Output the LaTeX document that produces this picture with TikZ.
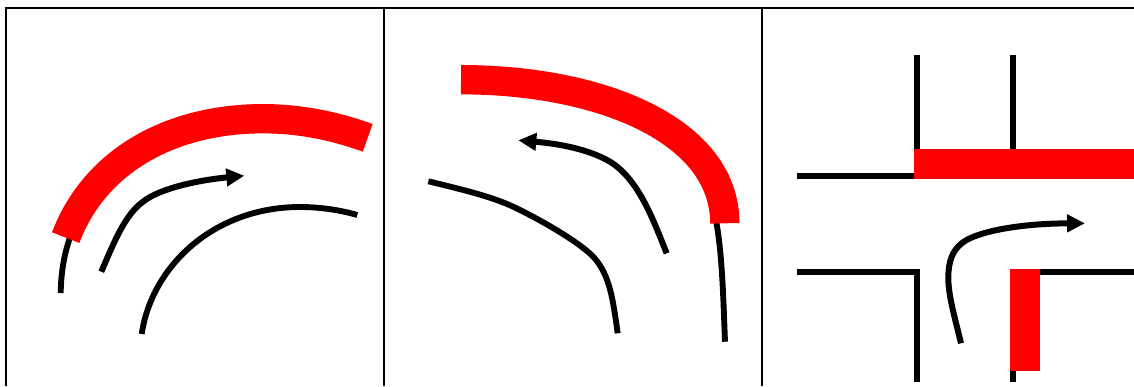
\documentclass[tikz,border=0pt]{standalone}
\usetikzlibrary{arrows.meta}
\tikzset{
  framel/.style={draw=black,line width=1.5pt},
  band/.style={draw=red,line width=22pt},
  road/.style={draw=black,line width=4.4pt},
  wall/.style={draw=black,line width=4.6pt},
  flow/.style={draw=black,line width=4.5pt,-{Triangle[length=13.5pt,width=12.75pt]}},
  redblock/.style={fill=red,draw=none}
}
\begin{document}
\begin{tikzpicture}[x=0.75pt,y=-0.75pt]
\useasboundingbox (0,0) rectangle (1134,386);
\fill[white] (0,0) rectangle (1134,386);
\begin{scope}
\clip (0,0) rectangle (1134,386);
% frame
\draw[framel] (6,386) -- (6,8) -- (1134,8);
\draw[framel] (384,8) -- (384,386);
\draw[framel] (762,8) -- (762,386);
% panel 1
\draw[road] (60.7,293) .. controls (61,270) and (65,250) .. (72,232);
\draw[road] (141.7,334) .. controls (152,265) and (215,207) .. (300,207) .. controls (320,207) and (340,210) .. (357.3,215);
\draw[flow] (101.3,271.7) .. controls (115,240) and (125,215) .. (143,201.7) .. controls (160,188) and (200,180) .. (244.3,175.7);
\draw[band] (65.7,237.6) .. controls (95,160) and (172,118.7) .. (263,118.7) .. controls (300,118.7) and (335,126) .. (367.7,137.8);
% panel 2
\draw[road] (725,341.7) .. controls (723,290) and (722,250) .. (715,215);
\draw[road] (428.3,181.3) .. controls (460,189) and (490,196) .. (513.3,206.7) .. controls (545,222) and (580,243) .. (593.3,256.7) .. controls (610,275) and (613,300) .. (617.7,333.3);
\draw[flow] (666.7,253.3) .. controls (655,225) and (640,180) .. (610,161.7) .. controls (585,147) and (550,143) .. (518.3,140.3);
\draw[band] (461,79.7) .. controls (600,79.7) and (724.8,130) .. (724.8,223.3);
% panel 3
\draw[wall] (917,55.3) -- (917,175.7) -- (797,175.7);
\draw[wall] (1013,55.3) -- (1013,150);
\draw[wall] (797,271.7) -- (917,271.7) -- (917,382);
\draw[wall] (1013,382) -- (1013,271.7) -- (1134,271.7);
\draw[flow] (961,343.3) .. controls (955,318) and (948,295) .. (948.3,276.7) .. controls (948.5,262) and (952,251) .. (961.7,243.3) .. controls (976,231.5) and (1020,223.5) .. (1085,223.3);
\fill[redblock] (914,148.7) rectangle (1134,178.7);
\fill[redblock] (1010,268.5) rectangle (1040,370.7);
\end{scope}
\end{tikzpicture}
\end{document}
